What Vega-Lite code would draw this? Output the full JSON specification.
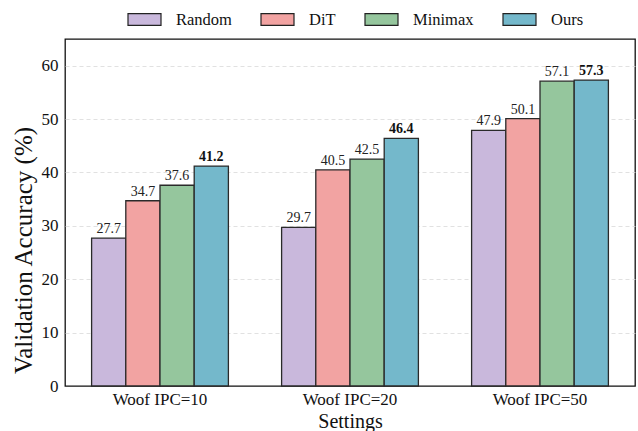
{
  "$schema": "https://vega.github.io/schema/vega-lite/v6.json",
  "width": 570,
  "height": 347,
  "autosize": "none",
  "padding": {"left": 65, "top": 39, "right": 3, "bottom": 45},
  "config": {
    "font": "Liberation Serif",
    "view": {"stroke": "#111", "strokeWidth": 1.3},
    "axis": {"labelColor": "#111", "titleColor": "#111", "titleFontWeight": "normal"}
  },
  "data": {
    "values": [
      {"setting": "Woof IPC=10", "method": "Random", "acc": 27.7},
      {"setting": "Woof IPC=10", "method": "DiT", "acc": 34.7},
      {"setting": "Woof IPC=10", "method": "Minimax", "acc": 37.6},
      {"setting": "Woof IPC=10", "method": "Ours", "acc": 41.2},
      {"setting": "Woof IPC=20", "method": "Random", "acc": 29.7},
      {"setting": "Woof IPC=20", "method": "DiT", "acc": 40.5},
      {"setting": "Woof IPC=20", "method": "Minimax", "acc": 42.5},
      {"setting": "Woof IPC=20", "method": "Ours", "acc": 46.4},
      {"setting": "Woof IPC=50", "method": "Random", "acc": 47.9},
      {"setting": "Woof IPC=50", "method": "DiT", "acc": 50.1},
      {"setting": "Woof IPC=50", "method": "Minimax", "acc": 57.1},
      {"setting": "Woof IPC=50", "method": "Ours", "acc": 57.3}
    ]
  },
  "encoding": {
    "x": {
      "field": "setting", "type": "nominal", "title": "Settings",
      "scale": {"paddingInner": 0.28, "paddingOuter": 0.14},
      "axis": {"labelAngle": 0, "labelFont": "Liberation Serif", "titleFont": "Liberation Serif", "labelFontSize": 17, "titleFontSize": 20, "ticks": false, "labelPadding": 5, "titlePadding": 4, "domain": false, "grid": false}
    },
    "xOffset": {"field": "method", "type": "nominal", "sort": ["Random", "DiT", "Minimax", "Ours"], "scale": {"paddingInner": 0, "paddingOuter": 0}},
    "y": {
      "field": "acc", "type": "quantitative", "title": "Validation Accuracy (%)",
      "scale": {"domain": [0, 65], "nice": false},
      "axis": {"values": [0, 10, 20, 30, 40, 50, 60], "labelFont": "Liberation Serif", "titleFont": "Liberation Serif", "labelFontSize": 17, "titleFontSize": 25, "ticks": false, "labelPadding": 7, "titlePadding": 5, "titleY": 211, "domain": false, "gridDash": [4, 3], "gridColor": "#d9d9d9", "gridWidth": 0.8,
        "gridOpacity": {"condition": {"test": "datum.value === 0", "value": 0}, "value": 1}}
    }
  },
  "layer": [
    {
      "mark": {"type": "bar", "stroke": "#2a2a2a", "strokeWidth": 1.3},
      "encoding": {
        "color": {
          "field": "method", "type": "nominal", "sort": ["Random", "DiT", "Minimax", "Ours"],
          "scale": {"domain": ["Random", "DiT", "Minimax", "Ours"], "range": ["#C9B8DC", "#F2A3A2", "#95C69D", "#74B8CB"]},
          "legend": {
            "orient": "none", "direction": "horizontal", "title": null,
            "legendX": 62, "legendY": -37,
            "symbolType": "M-1,-0.36H1V0.36H-1Z", "symbolSize": 1089,
            "symbolStrokeColor": "#222", "symbolStrokeWidth": 1.2, "symbolOpacity": 1,
            "labelFont": "Liberation Serif",
            "labelFontSize": 16.5, "labelOffset": 14, "columnPadding": 26, "padding": 0, "labelColor": "#111"
          }
        }
      }
    },
    {
      "transform": [{"filter": "datum.method !== 'Ours'"}],
      "mark": {"type": "text", "font": "Liberation Serif", "baseline": "alphabetic", "dy": -5, "fontSize": 14, "color": "#222"},
      "encoding": {"text": {"field": "acc", "type": "quantitative", "format": ".1f"}}
    },
    {
      "transform": [{"filter": "datum.method === 'Ours'"}],
      "mark": {"type": "text", "font": "Liberation Serif", "baseline": "alphabetic", "dy": -5, "fontSize": 14, "fontWeight": "bold", "color": "#111"},
      "encoding": {"text": {"field": "acc", "type": "quantitative", "format": ".1f"}}
    }
  ]
}
